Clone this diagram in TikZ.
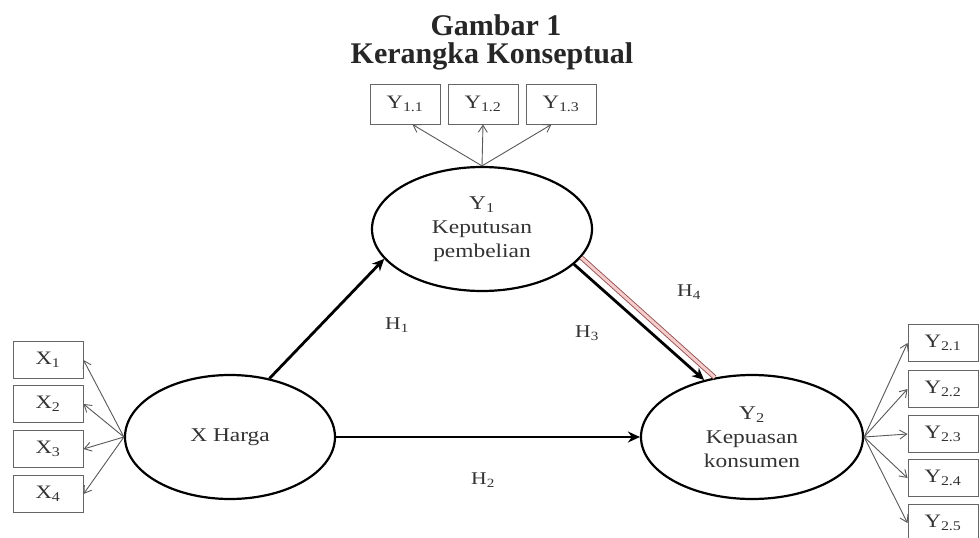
\documentclass[tikz,border=0pt]{standalone}
\usepackage{fontspec}
\setmainfont{Liberation Serif}
\newfontfamily\widefont[FakeStretch=1.2]{Liberation Serif}
\usetikzlibrary{shapes.geometric,arrows.meta}
\begin{document}
\begin{tikzpicture}[x=1pt,y=-1pt,
 latent/.style={ellipse,draw=black,line width=2.2pt,minimum width=220pt,minimum height=124pt,inner sep=0pt,align=center,font=\widefont\fontsize{19.5}{24}\selectfont,text=black!80},
 ind/.style={rectangle,draw=black!60,line width=1pt,minimum width=70pt,minimum height=38pt,inner sep=0pt,font=\widefont\fontsize{19}{22}\selectfont,text=black!80},
 thinarr/.style={draw=black!65,line width=0.9pt,-{Straight Barb[length=7pt,width=9pt]}},
 mainarr/.style={draw=black,line width=2.8pt,-{Stealth[length=12pt,width=11pt]}},
 hfour/.style={draw={rgb,255:red,150;green,80;blue,80},line width=0.9pt,double={rgb,255:red,245;green,205;blue,205},double distance=3pt},
 hlab/.style={font=\widefont\fontsize{18}{20}\selectfont,text=black!80},
 ttl/.style={font=\bfseries\fontsize{30}{33}\selectfont,text=black!85,anchor=base}
]
\useasboundingbox (0,0) rectangle (980,538);
\clip (0,0) rectangle (980,538);
\fill[white] (0,0) rectangle (980,538);

\node[ttl] (t1) at (496,35) {Gambar 1};
\node[ttl] (t2) at (492,63) {Kerangka Konseptual};

\node[latent] (y1) at (482,229) {Y\textsubscript{1}\\Keputusan\\pembelian};
\node[latent,minimum width=210pt] (x) at (230,437) {X Harga};
\node[latent,minimum width=222pt] (y2) at (752,437) {Y\textsubscript{2}\\Kepuasan\\konsumen};

\node[ind,minimum height=40pt] (b11) at (405,104) {Y\textsubscript{1.1}};
\node[ind,minimum height=40pt] (b12) at (483,104) {Y\textsubscript{1.2}};
\node[ind,minimum height=40pt] (b13) at (561,104) {Y\textsubscript{1.3}};

\node[ind,minimum height=37pt] (xb1) at (48,360) {X\textsubscript{1}};
\node[ind,minimum height=37pt] (xb2) at (48,404) {X\textsubscript{2}};
\node[ind,minimum height=37pt] (xb3) at (48,449) {X\textsubscript{3}};
\node[ind,minimum height=37pt] (xb4) at (48,494) {X\textsubscript{4}};

\node[ind,minimum height=37pt] (yb1) at (943,343) {Y\textsubscript{2.1}};
\node[ind,minimum height=37pt] (yb2) at (943,389) {Y\textsubscript{2.2}};
\node[ind,minimum height=37pt] (yb3) at (943,434) {Y\textsubscript{2.3}};
\node[ind,minimum height=37pt] (yb4) at (943,478) {Y\textsubscript{2.4}};
\node[ind,minimum height=37pt] (yb5) at (943,523) {Y\textsubscript{2.5}};

\draw[thinarr] (y1.north) -- (b11.-70);
\draw[thinarr] (y1.north) -- (b12.south);
\draw[thinarr] (y1.north) -- (b13.-115);

\draw[thinarr] (x.west) -- (xb1.east);
\draw[thinarr] (x.west) -- (xb2.east);
\draw[thinarr] (x.west) -- (xb3.east);
\draw[thinarr] (x.west) -- (xb4.east);

\draw[thinarr] (y2.east) -- (yb1.west);
\draw[thinarr] (y2.east) -- (yb2.west);
\draw[thinarr] (y2.east) -- (yb3.west);
\draw[thinarr] (y2.east) -- (yb4.west);
\draw[thinarr] (y2.east) -- (yb5.west);

\draw[hfour] (y1.-16) -- (y2.122);
\draw[mainarr] (x.56) -- (y1.197);
\draw[mainarr] (x.east) -- (y2.west);
\draw[mainarr] (y1.-21) -- (y2.130);

\node[hlab] (h1) at (397,325) {H\textsubscript{1}};
\node[hlab] (h2) at (483,480) {H\textsubscript{2}};
\node[hlab] (h3) at (587,333) {H\textsubscript{3}};
\node[hlab] (h4) at (689,292) {H\textsubscript{4}};
\end{tikzpicture}
\end{document}
